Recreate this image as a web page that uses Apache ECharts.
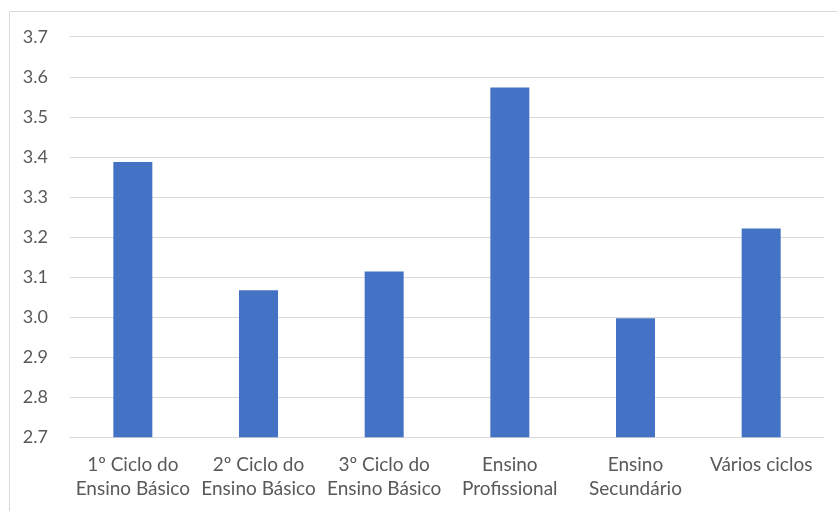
<!DOCTYPE html>
<html>
<head>
<meta charset="utf-8">
<script src="https://cdn.jsdelivr.net/npm/echarts@6/dist/echarts.min.js"></script>
<style>
  html, body { margin: 0; padding: 0; background: #ffffff; }
  #chart { width: 837px; height: 511px; }
</style>
</head>
<body>
<div id="chart"></div>
<script>
// Categories (school cycle) and mean scores
const categories = [
  "1º Ciclo do\nEnsino Básico",
  "2º Ciclo do\nEnsino Básico",
  "3º Ciclo do\nEnsino Básico",
  "Ensino\nProfissional",
  "Ensino\nSecundário",
  "Vários ciclos"
];
const values = [3.387, 3.067, 3.114, 3.573, 2.997, 3.221];
const yTicks = { min: 2.7, max: 3.7, step: 0.1 };

const chart = echarts.init(document.getElementById('chart'), null, { renderer: 'canvas' });
const textFont = 'Lato, "Noto Sans", sans-serif';

chart.setOption({
  animation: false,
  backgroundColor: '#ffffff',
  graphic: [{
    type: 'rect',
    shape: { x: 9.5, y: 11.5, width: 900, height: 600 },
    style: { fill: 'none', stroke: '#d9d9d9', lineWidth: 1 },
    silent: true, z: -1
  }],
  grid: { left: 70, right: 13, top: 36.7, bottom: 73.7, containLabel: false },
  xAxis: {
    type: 'category',
    data: categories,
    axisLine: { show: true, lineStyle: { color: '#d9d9d9', width: 1 } },
    axisTick: { show: false },
    axisLabel: {
      interval: 0, color: '#595959', fontFamily: textFont, fontSize: 19,
      lineHeight: 24, margin: 16
    }
  },
  yAxis: {
    type: 'value',
    min: yTicks.min, max: yTicks.max, interval: yTicks.step,
    axisLine: { show: false },
    axisTick: { show: false },
    splitLine: { lineStyle: { color: '#d9d9d9', width: 1 } },
    axisLabel: {
      color: '#595959', fontFamily: textFont, fontSize: 18, margin: 22,
      formatter: v => v.toFixed(1)
    }
  },
  series: [{
    type: 'bar',
    data: values,
    barWidth: 39,
    itemStyle: { color: '#4472c4' }
  }]
});
</script>
</body>
</html>
